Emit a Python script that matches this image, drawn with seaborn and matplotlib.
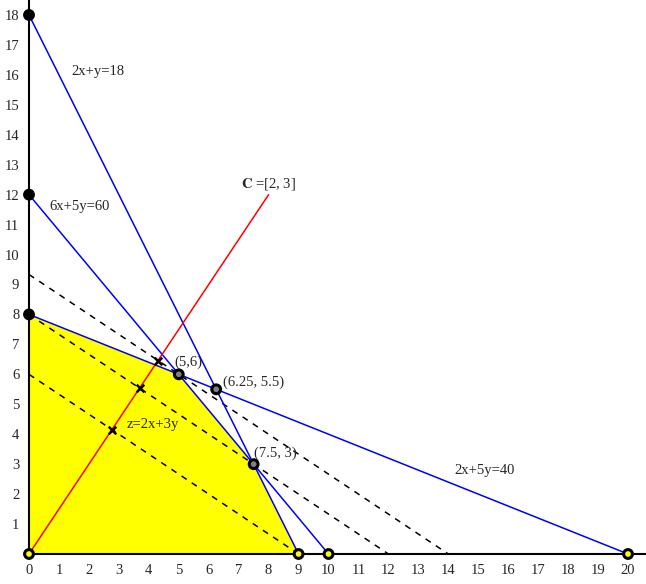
import seaborn as sns
import matplotlib.pyplot as plt
import pandas as pd
import numpy as np

# constraints a*x + b*y = rhs
con_names = ['2x+y=18', '6x+5y=60', '2x+5y=40']
con_a = [2, 6, 2]
con_b = [1, 5, 5]
con_rhs = [18, 60, 40]
con_label_pos = [(1.4, 16.1), (0.67, 11.6), (14.2, 2.8)]

# feasible region
region_x = [0, 0, 5, 7.5, 9]
region_y = [0, 8, 6, 3, 0]

# objective
c_vec = [2, 3]
obj_levels = [18, 24, 28]
c_scale = 4

# marked points
pt_x = [0, 0, 0, 0, 5, 6.25, 7.5, 9, 10, 20]
pt_y = [18, 12, 8, 0, 6, 5.5, 3, 0, 0, 0]
pt_face = ['black', 'black', 'black', 'yellow', 'gray', 'gray', 'gray', 'yellow', 'yellow', 'yellow']

vert_labels = ['(5,6)', '(6.25, 5.5)', '(7.5, 3)']
vert_label_pos = [(4.87, 6.41), (6.48, 5.74), (7.5, 3.37)]

sns.set_style('white')
plt.rcParams['font.family'] = ['Liberation Serif', 'DejaVu Serif']
plt.rcParams['mathtext.fontset'] = 'stix'

fig = plt.figure(figsize=(6.46, 5.84), dpi=100)
ax = fig.add_axes([29 / 646, 30 / 584, 617 / 646, 554 / 584])

ax.fill(region_x, region_y, color='yellow', zorder=1, lw=0)

for a, b, r in zip(con_a, con_b, con_rhs):
    df = pd.DataFrame({'x': [0, r / a], 'y': [r / b, 0]})
    sns.lineplot(data=df, x='x', y='y', color='blue', lw=1.1, ax=ax, zorder=3, clip_on=False)

cc = c_vec[0] ** 2 + c_vec[1] ** 2
for lv in obj_levels:
    df = pd.DataFrame({'x': [0, lv / c_vec[0]], 'y': [lv / c_vec[1], 0]})
    sns.lineplot(data=df, x='x', y='y', color='black', lw=1.1, ax=ax, zorder=2,
                 linestyle=(0, (4, 4)))

df_c = pd.DataFrame({'x': [0, c_scale * c_vec[0]], 'y': [0, c_scale * c_vec[1]]})
sns.lineplot(data=df_c, x='x', y='y', color='red', lw=1.1, ax=ax, zorder=3)

df_x = pd.DataFrame({'x': [lv / cc * c_vec[0] for lv in obj_levels],
                     'y': [lv / cc * c_vec[1] for lv in obj_levels]})
sns.scatterplot(data=df_x, x='x', y='y', marker='x', color='black', s=30, linewidth=1.8,
                ax=ax, zorder=5)

ax.scatter(pt_x, pt_y, s=40, facecolors=pt_face, edgecolors='black', linewidths=2.2,
           zorder=6, clip_on=False)

for name, (tx, ty) in zip(con_names, con_label_pos):
    ax.text(tx, ty, name, fontsize=10.5, va='center', ha='left')
for name, (tx, ty) in zip(vert_labels, vert_label_pos):
    ax.text(tx, ty, name, fontsize=10.5, va='center', ha='left')
ax.text(3.27, 4.31, 'z=2x+3y', fontsize=10.5, va='center', ha='left')
ax.text(7.98, 12.35, r'$\mathbf{C}$ =[2, 3]', fontsize=10.5, va='center', ha='center')

ax.set_xlim(0, 20.6)
ax.set_ylim(0, 18.5)
ax.set_xticks(range(0, 21))
ax.set_yticks(range(1, 19))
ax.tick_params(axis='x', length=0, labelsize=10.5, pad=7)
ax.tick_params(axis='y', length=0, labelsize=10.5, pad=7)
ax.set_xlabel('')
ax.set_ylabel('')
for s in ['top', 'right']:
    ax.spines[s].set_visible(False)
for s in ['left', 'bottom']:
    ax.spines[s].set_color('black')
    ax.spines[s].set_linewidth(1.5)

fig.savefig('out.png', dpi=100)
